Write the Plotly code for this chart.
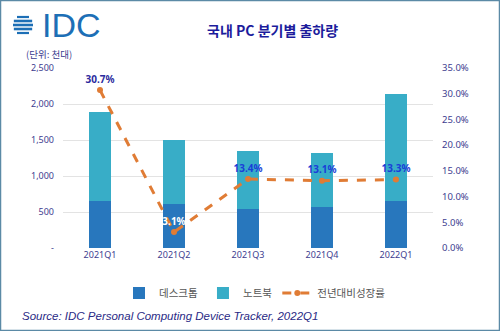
import plotly.graph_objects as go

quarters = ["2021Q1", "2021Q2", "2021Q3", "2021Q4", "2022Q1"]
desktop = [653, 615, 546, 574, 657]
notebook = [1236, 885, 805, 745, 1477]
growth = [30.7, 3.1, 13.4, 13.1, 13.3]
growth_labels = ["30.7%", "3.1%", "13.4%", "13.1%", "13.3%"]
label_colors = ["#2b2b9e", "#ffffff", "#1a3ed8", "#1a3ed8", "#1a3ed8"]
left_ticks = [0, 500, 1000, 1500, 2000, 2500]
left_ticktext = ["-", "500", "1,000", "1,500", "2,000", "2,500"]

FONT = "Noto Sans, Noto Sans CJK KR, sans-serif"
KFONT = "Noto Sans CJK KR, sans-serif"
TICKCOL = "#3d3d8f"

fig = go.Figure()
fig.add_trace(go.Bar(x=quarters, y=desktop, name="데스크톱", marker_color="#2877bd",
                     marker_line_width=0))
fig.add_trace(go.Bar(x=quarters, y=notebook, name="노트북", marker_color="#38adc7",
                     marker_line_width=0))
fig.add_trace(go.Scatter(x=quarters, y=growth, yaxis="y2", name="전년대비성장률",
                         mode="lines+markers+text",
                         line=dict(color="#e07c35", width=3, dash="dash"),
                         marker=dict(color="#e07c35", size=6),
                         text=growth_labels, textposition="top center",
                         textfont=dict(color=label_colors, size=10, family=FONT, weight="bold"),
                         cliponaxis=False))

# plot area: x 63..433 px, y 68..248 px
def px(x):
    return (x - 63) / 370.0

def py(y):
    return (248 - y) / 180.0

shapes = []
# globe logo stripes
cx, cy, r = 23, 25, 10
for dy, t in [(-8, 2.2), (-4, 2.6), (0, 2.6), (4, 2.6), (8, 2.2)]:
    hw = (r * r - dy * dy) ** 0.5
    shapes.append(dict(type="line", xref="paper", yref="paper",
                       x0=px(cx - hw), x1=px(cx + hw), y0=py(cy + dy), y1=py(cy + dy),
                       line=dict(color="#1d6fb6", width=t)))
# border
shapes.append(dict(type="rect", xref="paper", yref="paper",
                   x0=px(0.5), x1=px(499.5), y0=py(330.5), y1=py(0.5),
                   line=dict(color="#5b8aa6", width=1.5), layer="below"))

annotations = [
    dict(text="IDC", x=px(40), y=py(25), xref="paper", yref="paper", showarrow=False,
         xanchor="left", yanchor="middle",
         font=dict(family="Liberation Sans, Arial", size=34, color="#1d6fb6")),
    dict(text="<b>국내 PC 분기별 출하량</b>", x=px(272), y=py(30), xref="paper", yref="paper",
         showarrow=False, xanchor="center", yanchor="middle",
         font=dict(family=KFONT, size=14, color="#1c1c9c")),
    dict(text="(단위: 천대)", x=px(24), y=py(54), xref="paper", yref="paper",
         showarrow=False, xanchor="left", yanchor="middle",
         font=dict(family=KFONT, size=9.5, color="#3d3d8f")),
    dict(text="<i>Source: IDC Personal Computing Device Tracker, 2022Q1</i>",
         x=px(20), y=py(316), xref="paper", yref="paper", showarrow=False,
         xanchor="left", yanchor="middle",
         font=dict(family="Liberation Sans, Arial", size=11.5, color="#2a2a85")),
]

fig.update_layout(
    width=500, height=331,
    margin=dict(l=63, r=67, t=68, b=83),
    paper_bgcolor="white", plot_bgcolor="white",
    barmode="stack", bargap=0.69,
    showlegend=True,
    legend=dict(orientation="h", x=px(255), xanchor="center", y=py(293), yanchor="middle",
                font=dict(family=KFONT, size=10.5, color="#555555"), traceorder="normal",
                itemwidth=30),
    xaxis=dict(showgrid=False, showline=False, ticks="",
               tickfont=dict(family=FONT, size=9, color=TICKCOL)),
    yaxis=dict(range=[0, 2500], tickvals=left_ticks, ticktext=left_ticktext,
               showgrid=True, gridcolor="#e3e3e3", gridwidth=1, zeroline=False,
               tickfont=dict(family=FONT, size=9, color=TICKCOL), ticks="",
               ticklabelstandoff=8),
    yaxis2=dict(range=[0, 35], dtick=5, overlaying="y", side="right",
                tickformat=".1f", ticksuffix="%", showgrid=False, zeroline=False,
                tickfont=dict(family=FONT, size=9.5, color=TICKCOL), ticks="",
                ticklabelstandoff=8),
    shapes=shapes, annotations=annotations,
)

fig.write_html("out.html")
